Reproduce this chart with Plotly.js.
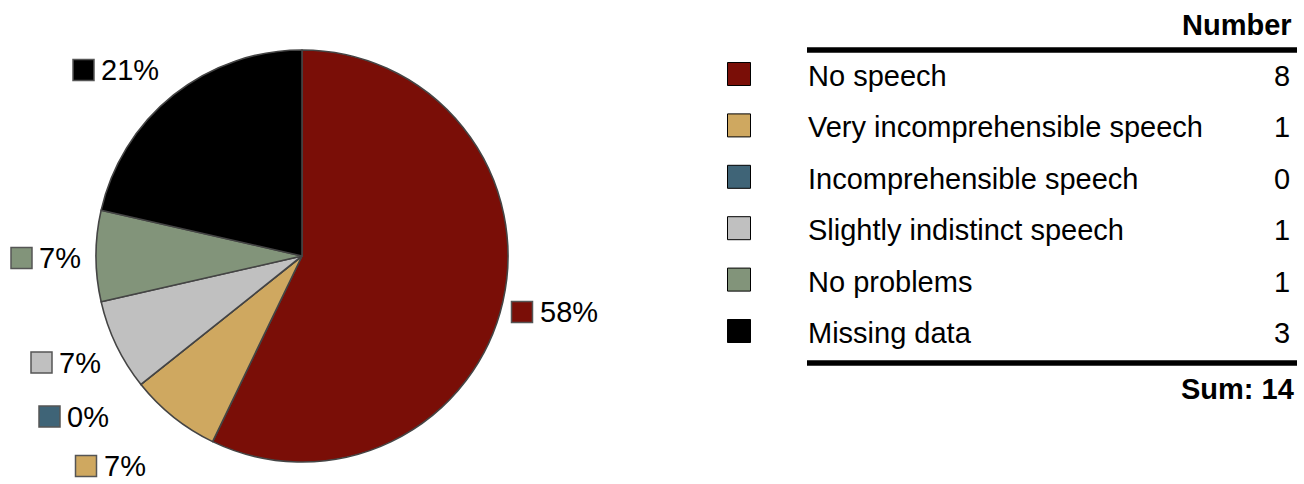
<!DOCTYPE html>
<html>
<head>
<meta charset="utf-8">
<script src="https://cdn.plot.ly/plotly-3.0.1.min.js"></script>
<style>html,body{margin:0;padding:0;background:#fff;}#chart{width:1304px;height:484px;}</style>
</head>
<body>
<div id="chart"></div>
<script>
// ---- data ----
const categories = ["No speech", "Very incomprehensible speech", "Incomprehensible speech", "Slightly indistinct speech", "No problems", "Missing data"];
const counts = [8, 1, 0, 1, 1, 3];
const pctLabels = ["58%", "7%", "0%", "7%", "7%", "21%"];
const colors = ["#7a0e07", "#cfa860", "#3f6477", "#c0c0c0", "#82947a", "#000000"];
const headerLabel = "Number";
const sumLabel = "Sum: ";

// ---- layout helpers (pixel -> paper) ----
const W = 1304, H = 484;
const px = x => x / W;
const py = y => 1 - y / H;
const FONT = "Liberation Sans, Arial, sans-serif";
const FS = 29;

// percentage label anchor squares (centre px) for each slice
const pctLabelPos = [[522, 312], [86, 466], [49.5, 416.5], [41.5, 362.5], [21.5, 258], [83.5, 70]];

const total = counts.reduce((a, b) => a + b, 0);

const trace = {
  type: "pie",
  values: counts,
  labels: categories,
  sort: false,
  direction: "clockwise",
  rotation: 0,
  textinfo: "none",
  hoverinfo: "label+value+percent",
  marker: { colors: colors, line: { color: "#444444", width: 1.6 } },
  domain: { x: [px(96), px(508)], y: [py(462), py(50)] },
  showlegend: false
};

const shapes = [];
const annotations = [];

// percentage labels with small squares
counts.forEach((v, i) => {
  const [cx, cy] = pctLabelPos[i];
  const s = 10.5;
  shapes.push({ type: "rect", xref: "paper", yref: "paper",
    x0: px(cx - s), x1: px(cx + s), y0: py(cy + s), y1: py(cy - s),
    fillcolor: colors[i], line: { color: "#555555", width: 1.5 } });
  annotations.push({ xref: "paper", yref: "paper", x: px(cx + s + 6), y: py(cy),
    xanchor: "left", yanchor: "middle", showarrow: false, borderpad: 0,
    text: pctLabels[i], font: { family: FONT, size: FS, color: "#000" } });
});

// table legend
const rowY0 = 74, rowStep = 51.4;
categories.forEach((c, i) => {
  const y = rowY0 + i * rowStep;
  const s = 11.5;
  shapes.push({ type: "rect", xref: "paper", yref: "paper",
    x0: px(739 - s), x1: px(739 + s), y0: py(y + s), y1: py(y - s),
    fillcolor: colors[i], line: { color: "#000", width: 1 } });
  annotations.push({ xref: "paper", yref: "paper", x: px(806), y: py(y + 2),
    xanchor: "left", yanchor: "middle", showarrow: false,
    text: c, font: { family: FONT, size: FS, color: "#000" } });
  annotations.push({ xref: "paper", yref: "paper", x: px(1292), y: py(y + 2),
    xanchor: "right", yanchor: "middle", showarrow: false,
    text: String(counts[i]), font: { family: FONT, size: FS, color: "#000" } });
});

// header, rules, sum
annotations.push({ xref: "paper", yref: "paper", x: px(1294), y: py(25),
  xanchor: "right", yanchor: "middle", showarrow: false,
  text: "<b>" + headerLabel + "</b>", font: { family: FONT, size: FS, color: "#000" } });
annotations.push({ xref: "paper", yref: "paper", x: px(1296), y: py(389),
  xanchor: "right", yanchor: "middle", showarrow: false,
  text: "<b>" + sumLabel + total + "</b>", font: { family: FONT, size: FS, color: "#000" } });
[50, 363].forEach(y => shapes.push({ type: "line", xref: "paper", yref: "paper",
  x0: px(807), x1: px(1297), y0: py(y), y1: py(y), line: { color: "#000", width: 5.5 } }));

const layout = {
  width: W, height: H,
  margin: { l: 0, r: 0, t: 0, b: 0, pad: 0 },
  paper_bgcolor: "#fff", plot_bgcolor: "#fff",
  showlegend: false,
  shapes: shapes,
  annotations: annotations,
  font: { family: FONT }
};

Plotly.newPlot("chart", [trace], layout, { displayModeBar: false, staticPlot: true });
</script>
</body>
</html>
